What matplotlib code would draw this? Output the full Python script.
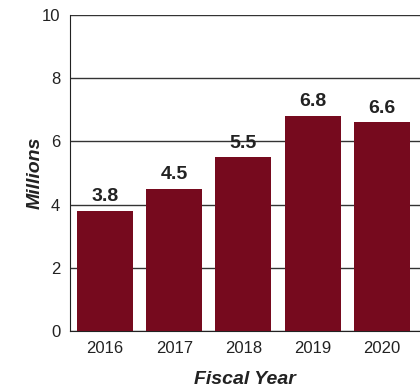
import matplotlib.pyplot as plt
from matplotlib import font_manager

years = ["2016", "2017", "2018", "2019", "2020"]
values = [3.8, 4.5, 5.5, 6.8, 6.6]
yticks = [0, 2, 4, 6, 8, 10]

names = {f.name for f in font_manager.fontManager.ttflist}
narrow = "Liberation Sans Narrow" if "Liberation Sans Narrow" in names else "Liberation Sans"
plt.rcParams["font.family"] = [narrow, "DejaVu Sans"]

bar_color = "#760a1e"
text_color = "#222222"

fig = plt.figure(figsize=(4.2, 3.92), dpi=100)
ax = fig.add_axes([0.1667, 0.1556, 0.8333, 0.8061])

x = range(len(years))
bars = ax.bar(x, values, width=0.81, color=bar_color, zorder=3)

for xi, v in zip(x, values):
    ax.text(xi, v + 0.18, f"{v:.1f}", ha="center", va="bottom",
            fontsize=14, fontweight="bold", color=text_color, zorder=4)

ax.set_xlim(-0.505, 4.55)
ax.set_ylim(0, 10)
ax.set_yticks(yticks)
ax.set_xticks(list(x))
ax.set_xticklabels(years)
ax.tick_params(length=0, labelsize=12, colors=text_color, pad=7)

ax.yaxis.grid(True, color="#333333", linewidth=1.0, zorder=1)
for side in ["top", "right"]:
    ax.spines[side].set_visible(False)
ax.spines["left"].set_color("#222222")
ax.spines["bottom"].set_color("#222222")

ax.set_xlabel("Fiscal Year", fontsize=14, fontweight="bold", style="italic",
              color=text_color, labelpad=11)
ax.set_ylabel("Millions", fontsize=14, fontweight="bold", style="italic",
              color=text_color, labelpad=-1)

fig.savefig("out.png", dpi=100)
